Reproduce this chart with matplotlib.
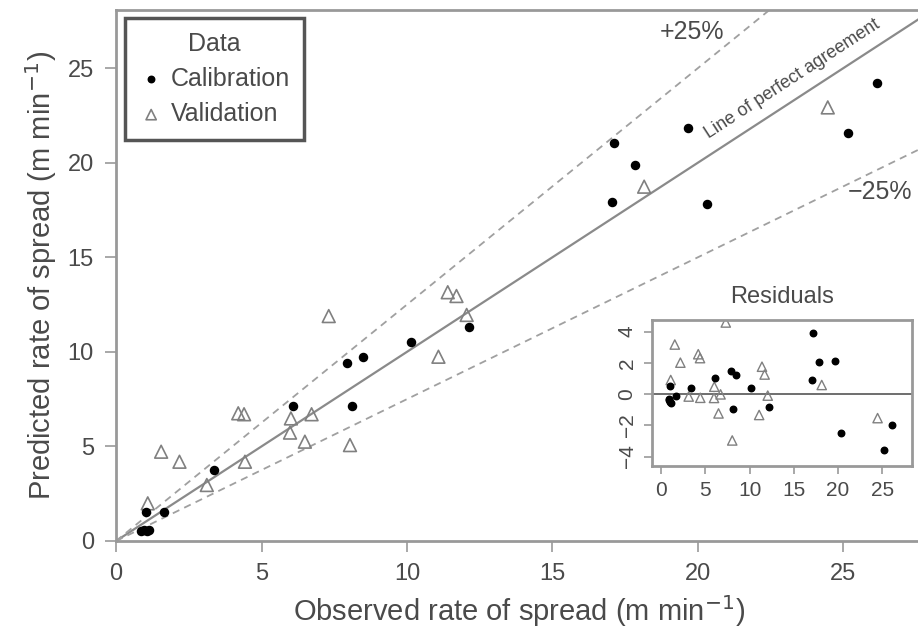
import numpy as np
import matplotlib
matplotlib.use("Agg")
import matplotlib.pyplot as plt

# observed / predicted rate of spread (m/min)
cal_obs = [0.85, 0.95, 1.05, 1.15, 1.03, 1.66, 3.38, 6.09, 7.93, 8.5, 8.12,
           10.14, 12.14, 17.12, 17.82, 17.03, 19.67, 20.32, 25.14, 26.14]
cal_pred = [0.55, 0.6, 0.55, 0.6, 1.52, 1.55, 3.75, 7.14, 9.39, 9.74, 7.14,
            10.52, 11.33, 21.05, 19.89, 17.9, 21.81, 17.83, 21.58, 24.19]

val_obs = [1.09, 1.55, 2.18, 3.12, 4.2, 4.4, 4.43, 5.98, 6.01, 6.49, 6.72,
           7.31, 8.04, 11.08, 11.4, 11.7, 12.05, 18.15, 24.46]
val_pred = [1.99, 4.72, 4.19, 2.96, 6.75, 6.7, 4.19, 5.73, 6.48, 5.25, 6.7,
            11.89, 5.07, 9.74, 13.15, 12.95, 11.95, 18.73, 22.92]

ticks_main = [0, 5, 10, 15, 20, 25]
ticks_res_y = [-4, -2, 0, 2, 4]

plt.rcParams['font.family'] = ['Liberation Sans', 'DejaVu Sans']
txt = '#4a4a4a'
frame = '#999999'

fig = plt.figure(figsize=(9.18, 6.4), dpi=100)
ax = fig.add_axes([0.1264, 0.1547, 0.878, 0.8297])
ax.set_xlim(0, 27.7)
ax.set_ylim(0, 28.07)

xx = np.array([0, 30])
ax.plot(xx, xx, color='#8a8a8a', lw=1.6, zorder=1)
ax.plot(xx, 1.25 * xx, color='#a0a0a0', lw=1.3, ls=(0, (4, 3)), zorder=1)
ax.plot(xx, 0.75 * xx, color='#a0a0a0', lw=1.3, ls=(0, (4, 3)), zorder=1)

ax.scatter(cal_obs, cal_pred, s=34, color='black', zorder=3, label='Calibration')
ax.scatter(val_obs, val_pred, s=85, marker='^', facecolor='none',
           edgecolor='#808080', lw=1.2, zorder=2, label='Validation')

ax.text(19.8, 26.9, '+25%', fontsize=18, color=txt, ha='center', va='center')
ax.text(27.35, 18.45, '\u221225%', fontsize=18, color=txt, ha='right', va='center')
ax.text(23.25, 24.45, 'Line of perfect agreement', fontsize=13, color=txt,
        ha='center', va='center', rotation=45, transform_rotates_text=True,
        rotation_mode='anchor')

ax.set_xticks(ticks_main)
ax.set_yticks(ticks_main)
ax.tick_params(direction='out', length=8, width=1.2, color=frame,
               labelsize=17, labelcolor=txt, pad=8)
for sp in ax.spines.values():
    sp.set_color(frame)
    sp.set_linewidth(2)
ax.set_xlabel('Observed rate of spread (m min$^{-1}$)', fontsize=21, color=txt, labelpad=6)
ax.set_ylabel('Predicted rate of spread (m min$^{-1}$)', fontsize=21, color=txt, labelpad=6)

leg = ax.legend(loc='upper left', bbox_to_anchor=(0.011, 0.985), borderaxespad=0,
                title='Data', fontsize=18, title_fontsize=18, fancybox=False,
                handletextpad=0.3, handlelength=1.0, borderpad=0.55,
                labelspacing=0.45, framealpha=1, markerscale=0.8)
leg.get_frame().set_edgecolor('#555555')
leg.get_frame().set_linewidth(2.5)
for t in leg.get_texts():
    t.set_color(txt)
leg.get_title().set_color(txt)

# residuals inset (predicted - observed)
res_cal = np.array(cal_pred) - np.array(cal_obs)
res_val = np.array(val_pred) - np.array(val_obs)

ins = fig.add_axes([0.710, 0.272, 0.283, 0.228])
ins.set_xlim(-1.05, 28.3)
ins.set_ylim(-4.6, 4.74)
ins.axhline(0, color='#555555', lw=1.2, zorder=1)
ins.scatter(cal_obs, res_cal, s=22, color='black', zorder=3)
ins.scatter(val_obs, res_val, s=45, marker='^', facecolor='none',
            edgecolor='#808080', lw=1.0, zorder=2)
ins.set_xticks(ticks_main)
ins.set_yticks(ticks_res_y)
ins.tick_params(direction='out', length=6, width=1.2, color=frame,
                labelsize=15, labelcolor=txt, pad=5)
for lbl in ins.get_yticklabels():
    lbl.set_rotation(90)
    lbl.set_va('center')
for sp in ins.spines.values():
    sp.set_color(frame)
    sp.set_linewidth(2)
ins.set_title('Residuals', fontsize=17, color=txt, pad=12)

fig.savefig('out.png', dpi=100)
